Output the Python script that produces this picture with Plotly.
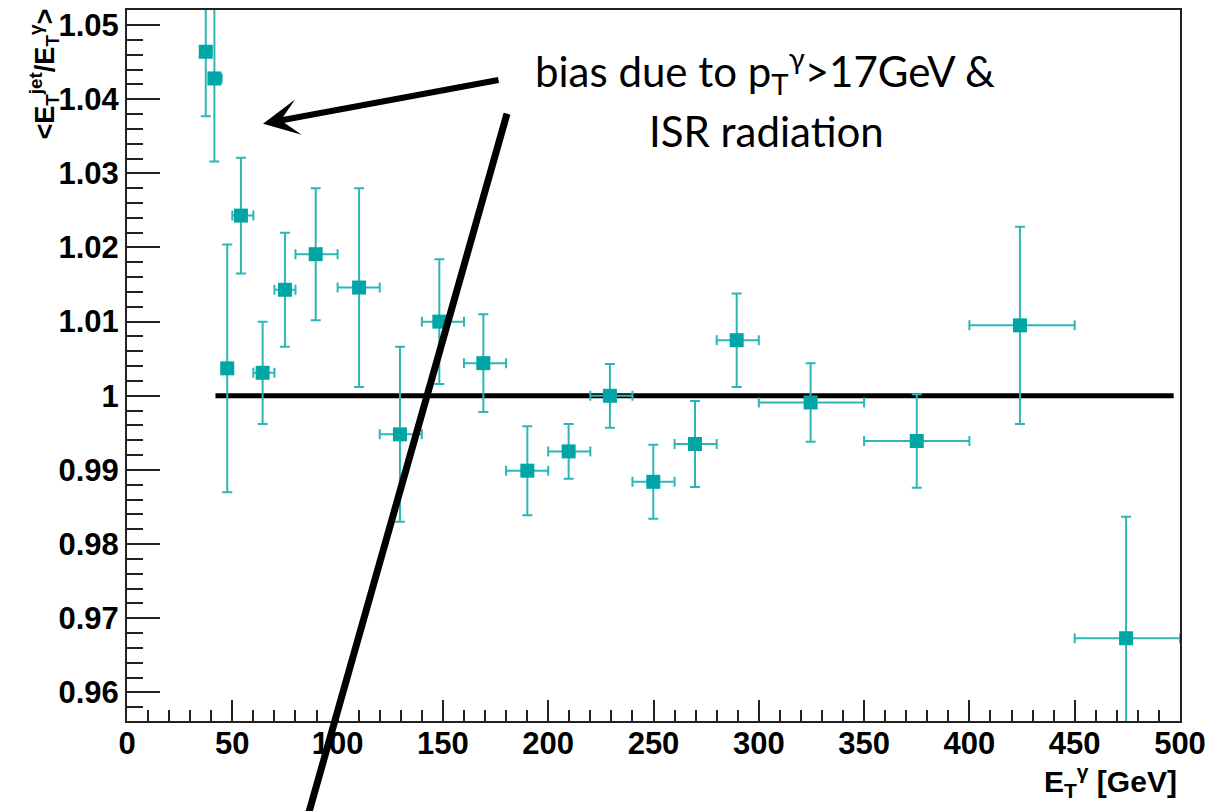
import plotly.graph_objects as go

# Photon+jet balance: mean E_T(jet)/E_T(photon) in bins of photon E_T
et_gamma = [37.4, 41.5, 47.6, 54.1, 64.4, 75.0, 89.6, 110.2, 129.6, 148.3, 169.2,
            190.1, 209.7, 229.3, 249.9, 269.7, 289.5, 324.6, 375.0, 424.0, 474.4]
bin_low = [35, 40, 45, 50, 60, 70, 80, 100, 120, 140, 160,
           180, 200, 220, 240, 260, 280, 300, 350, 400, 450]
bin_high = [40, 45, 50, 60, 70, 80, 100, 120, 140, 160, 180,
            200, 220, 240, 260, 280, 300, 350, 400, 450, 500]
ratio = [1.0464, 1.0428, 1.0037, 1.0243, 1.0031, 1.0143, 1.0191, 1.0146, 0.9948, 1.0100, 1.0044,
         0.9899, 0.9925, 1.0000, 0.9884, 0.9935, 1.0075, 0.9991, 0.9939, 1.0095, 0.9673]
ratio_err = [0.0087, 0.0112, 0.0167, 0.0078, 0.0069, 0.0077, 0.0089, 0.0134, 0.0118, 0.0084, 0.0066,
             0.0060, 0.0037, 0.0043, 0.0050, 0.0058, 0.0063, 0.0053, 0.0063, 0.0133, 0.0164]

# unity reference line
unity_x = [42, 497]
unity_y = [1.0, 1.0]

y_tick_vals = [0.96, 0.97, 0.98, 0.99, 1.00, 1.01, 1.02, 1.03, 1.04, 1.05]
y_tick_text = ["0.96", "0.97", "0.98", "0.99", "1", "1.01", "1.02", "1.03", "1.04", "1.05"]
x_tick_vals = [0, 50, 100, 150, 200, 250, 300, 350, 400, 450, 500]
x_tick_text = [str(v) for v in x_tick_vals]

TEAL = "#00A6A6"
TEAL_BAR = "#2DB6B6"
AXFONT = dict(family="Liberation Sans", size=31, color="black", weight="bold")

# plot-area frame in pixels (for overlay drawings in paper coordinates)
W, H = 1217, 811
L, R, T, B = 127, 1180, 8, 721


def px(x):
    return (x - L) / (R - L)


def py(y):
    return (B - y) / (B - T)


err_minus = [c - lo for c, lo in zip(et_gamma, bin_low)]
err_plus = [hi - c for c, hi in zip(et_gamma, bin_high)]

fig = go.Figure()

fig.add_trace(go.Scatter(
    x=unity_x, y=unity_y, mode="lines",
    line=dict(color="black", width=5), hoverinfo="skip", showlegend=False,
))

fig.add_trace(go.Scatter(
    x=et_gamma, y=ratio, mode="markers",
    marker=dict(symbol="square", size=14, color=TEAL, line=dict(width=0)),
    error_y=dict(type="data", array=ratio_err, visible=True,
                 color=TEAL_BAR, thickness=2, width=5),
    error_x=dict(type="data", symmetric=False, array=err_plus, arrayminus=err_minus,
                 visible=True, color=TEAL_BAR, thickness=2, width=5),
    showlegend=False,
))

fig.update_layout(
    width=W, height=H,
    margin=dict(l=L, r=W - R, t=T, b=H - B),
    paper_bgcolor="white", plot_bgcolor="white",
    showlegend=False,
    xaxis=dict(
        range=[0, 500], showgrid=False, zeroline=False,
        showline=True, linecolor="#222", linewidth=2, mirror=True,
        ticks="inside", ticklen=21, tickwidth=1.5, tickcolor="#222",
        tickvals=x_tick_vals, ticktext=x_tick_text, tickfont=AXFONT,
        ticklabelstandoff=-6,
        minor=dict(dtick=10, tick0=0, ticks="inside", ticklen=11,
                   tickwidth=1.5, tickcolor="#222", showgrid=False),
    ),
    yaxis=dict(
        range=[0.95614, 1.05203], showgrid=False, zeroline=False,
        showline=True, linecolor="#222", linewidth=2, mirror=True,
        ticks="inside", ticklen=33, tickwidth=1.5, tickcolor="#222",
        tickvals=y_tick_vals, ticktext=y_tick_text, tickfont=AXFONT,
        minor=dict(dtick=0.002, tick0=0.96, ticks="inside", ticklen=16,
                   tickwidth=1.5, tickcolor="#222", showgrid=False),
    ),
)

# axis titles
fig.add_annotation(
    xref="paper", yref="paper", x=px(44), y=py(5),
    xanchor="center", yanchor="top", textangle=-90, showarrow=False,
    text="&lt;E<sub>T</sub><sup>jet</sup>/E<sub>T</sub><sup>γ</sup>&gt;",
    font=dict(family="Liberation Sans", size=27, color="black", weight="bold"),
)
fig.add_annotation(
    xref="paper", yref="paper", x=px(1179), y=py(804),
    xanchor="right", yanchor="bottom", showarrow=False,
    text="E<sub>T</sub><sup>γ</sup> [GeV]",
    font=dict(family="Liberation Sans", size=30, color="black", weight="bold"),
)

# commentary text
NOTE_FONT = dict(family="Lato", size=42, color="black")
fig.add_annotation(
    xref="paper", yref="paper", x=px(765), y=py(69),
    xanchor="center", yanchor="middle", showarrow=False,
    text="bias due to p<sub>T</sub><sup>γ</sup>&gt;17GeV &amp;", font=NOTE_FONT,
)
fig.add_annotation(
    xref="paper", yref="paper", x=px(766), y=py(129),
    xanchor="center", yanchor="middle", showarrow=False,
    text="ISR radiation", font=NOTE_FONT,
)

# arrow pointing at the low-E_T points
fig.add_annotation(
    xref="paper", yref="paper", x=px(263), y=py(122),
    ax=500 - 263, ay=78 - 122, text="",
    showarrow=True, arrowhead=3, arrowsize=1, arrowwidth=6, arrowcolor="black",
)

# slanted marker line across the plot
fig.add_shape(
    type="line", xref="paper", yref="paper",
    x0=px(507), y0=py(112), x1=px(304), y1=py(830),
    line=dict(color="black", width=7),
)

fig.write_html("out.html")
